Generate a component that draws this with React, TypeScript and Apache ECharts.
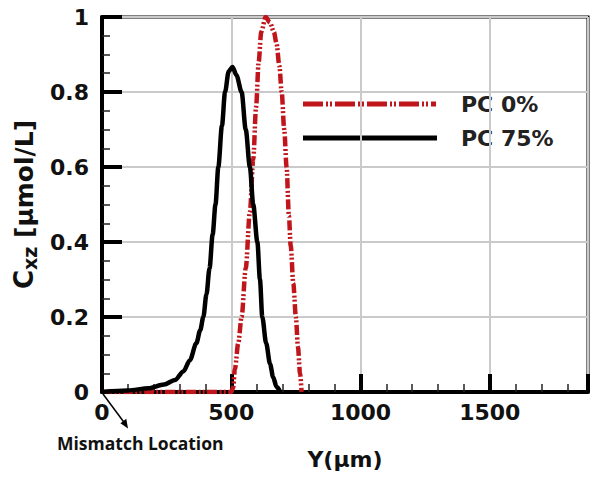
import React, { useEffect, useRef } from "react";
import * as echarts from "echarts";

const seriesNames = ["PC 0%", "PC 75%"];
// PC 0% (red, dash-dot-dot)
const pc0: [number, number][] = [
  [0, 0], [100, 0], [200, 0], [300, 0], [400, 0], [500, 0], [507, 0.01],
  [514, 0.06], [527, 0.13], [540, 0.2], [556, 0.33], [572, 0.48], [585, 0.62],
  [596, 0.76], [606, 0.88], [616, 0.96], [633, 1.0], [650, 0.985], [665, 0.96],
  [675, 0.93], [686, 0.87], [695, 0.8], [705, 0.7], [714, 0.6], [723, 0.47],
  [730, 0.39], [740, 0.29], [750, 0.2], [758, 0.12], [766, 0.05], [772, 0],
];
// PC 75% (black, solid)
const pc75: [number, number][] = [
  [0, 0], [100, 0.004], [180, 0.01], [240, 0.02], [282, 0.032], [315, 0.055],
  [340, 0.085], [365, 0.13], [380, 0.165], [392, 0.2], [404, 0.26], [416, 0.33],
  [428, 0.42], [439, 0.5], [450, 0.6], [464, 0.71], [476, 0.8], [490, 0.855],
  [505, 0.867], [520, 0.845], [540, 0.8], [556, 0.7], [572, 0.6], [585, 0.5],
  [601, 0.4], [611, 0.3], [620, 0.2], [635, 0.13], [650, 0.075], [662, 0.04],
  [675, 0.014], [690, 0],
];
const xTicks = [0, 500, 1000, 1500];
const yTicks = [0, 0.2, 0.4, 0.6, 0.8, 1];

const FONT = "'DejaVu Sans', sans-serif";
const RED = "#c0151b";

export default function App() {
  const ref = useRef<HTMLDivElement>(null);
  useEffect(() => {
    if (!ref.current) return;
    const chart = echarts.init(ref.current, undefined, { renderer: "svg" });
    chart.setOption({
      animation: false,
      backgroundColor: "#fff",
      grid: {
        left: 102, right: 16, top: 17, bottom: 95,
        show: true, borderColor: "#000", borderWidth: 3,
      },
      xAxis: {
        type: "value",
        min: 0,
        max: 1880,
        interval: 500,
        name: "Y(μm)",
        nameLocation: "middle",
        nameGap: 56,
        nameTextStyle: { fontFamily: FONT, fontSize: 22, fontWeight: "bold", color: "#111" },
        axisLine: { show: true, lineStyle: { color: "#000", width: 4 } },
        axisTick: { show: true, inside: true, length: 18, lineStyle: { color: "#000", width: 4 } },
        minorTick: { show: true, splitNumber: 5, length: 8, lineStyle: { color: "#222", width: 1.5 } },
        axisLabel: {
          fontFamily: FONT, fontSize: 22, fontWeight: "bold", color: "#111", margin: 9,
          showMaxLabel: false,
          formatter: (v: number) => (xTicks.includes(v) ? String(v) : ""),
        },
        splitLine: { show: true, lineStyle: { color: "#cacaca", width: 2 } },
      },
      yAxis: {
        type: "value",
        min: 0,
        max: 1,
        interval: 0.2,
        name: "{c|C}{s|xz}{n| [μmol/L]}",
        nameLocation: "middle",
        nameGap: 63,
        nameRotate: 90,
        nameTextStyle: {
          fontFamily: FONT, fontWeight: "bold", color: "#111",
          rich: {
            c: { fontFamily: FONT, fontSize: 26, fontWeight: "bold", color: "#111" },
            s: { fontFamily: FONT, fontSize: 19, fontWeight: "bold", color: "#111", verticalAlign: "bottom", padding: [11, 0, 0, 0] },
            n: { fontFamily: FONT, fontSize: 25, fontWeight: "bold", color: "#111" },
          },
        },
        axisLine: { show: true, lineStyle: { color: "#000", width: 4 } },
        axisTick: { show: true, inside: true, length: 20, lineStyle: { color: "#000", width: 4 } },
        minorTick: { show: true, splitNumber: 4, length: 8, lineStyle: { color: "#222", width: 1.5 } },
        axisLabel: {
          fontFamily: FONT, fontSize: 22, fontWeight: "bold", color: "#111", margin: 13,
          formatter: (v: number) => (yTicks.some((t) => Math.abs(t - v) < 1e-9) ? String(+v.toFixed(1)) : ""),
        },
        splitLine: { show: true, lineStyle: { color: "#cacaca", width: 2 } },
      },
      series: [
        {
          name: seriesNames[0],
          type: "line",
          data: pc0,
          smooth: 0.3,
          smoothMonotone: "x",
          showSymbol: false,
          symbol: "none",
          z: 3,
          itemStyle: { color: RED },
          lineStyle: { color: RED, width: 4.5, type: [10, 2.5, 2, 2, 2, 2.5] },
        },
        {
          name: seriesNames[1],
          type: "line",
          data: pc75,
          smooth: 0.3,
          smoothMonotone: "x",
          showSymbol: false,
          symbol: "none",
          z: 4,
          itemStyle: { color: "#000" },
          lineStyle: { color: "#000", width: 4.5 },
        },
      ],
      graphic: [
        // legend
        {
          type: "line",
          shape: { x1: 303, y1: 104, x2: 436, y2: 104 },
          style: { stroke: RED, lineWidth: 5, lineDash: [20, 3, 2, 2, 2, 3] },
        },
        {
          type: "text",
          x: 461, y: 104,
          style: {
            text: seriesNames[0], fontFamily: FONT, fontSize: 22, fontWeight: "bold",
            fill: "#222", verticalAlign: "middle", align: "left",
          },
        },
        {
          type: "line",
          shape: { x1: 303, y1: 138, x2: 437, y2: 138 },
          style: { stroke: "#000", lineWidth: 5 },
        },
        {
          type: "text",
          x: 461, y: 138,
          style: {
            text: seriesNames[1], fontFamily: FONT, fontSize: 22, fontWeight: "bold",
            fill: "#222", verticalAlign: "middle", align: "left",
          },
        },
        // annotation
        {
          type: "line",
          shape: { x1: 103, y1: 394, x2: 126, y2: 425 },
          style: { stroke: "#000", lineWidth: 1.5 },
        },
        {
          type: "polygon",
          shape: { points: [[128, 428.5], [120.4, 423.2], [126.3, 418.8]] },
          style: { fill: "#000" },
        },
        {
          type: "text",
          x: 57,
          y: 443,
          style: {
            text: "Mismatch Location",
            fontFamily: "'Open Sans', sans-serif",
            fontSize: 17.5,
            fontWeight: "bold",
            fill: "#111",
            verticalAlign: "middle",
          },
        },
      ],
    });
    return () => chart.dispose();
  }, []);
  return (
    <div
      ref={ref}
      style={{ position: "fixed", left: 0, top: 0, width: 604, height: 487 }}
    />
  );
}
